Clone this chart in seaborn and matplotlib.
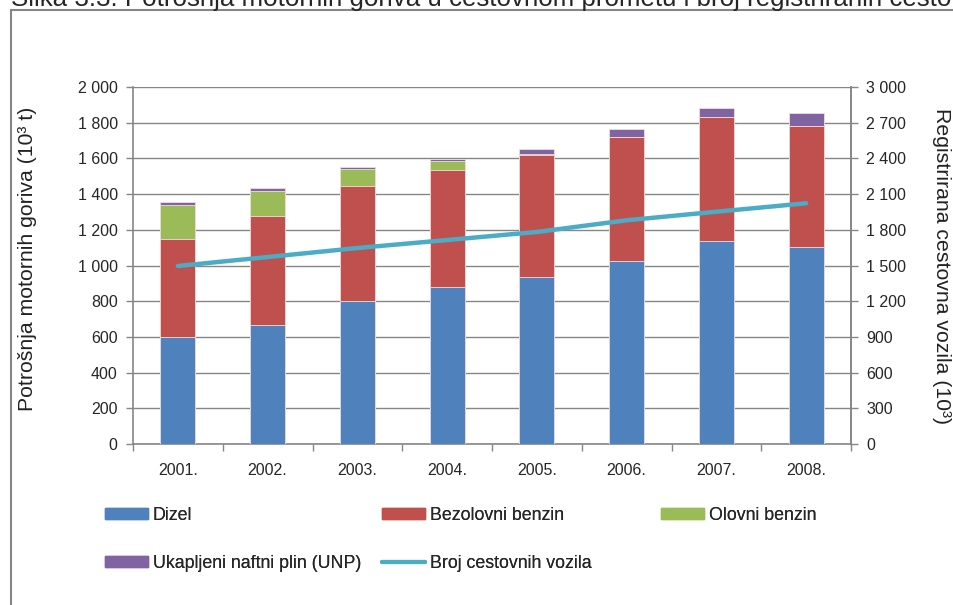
import numpy as np
import pandas as pd
import seaborn as sns
import matplotlib.pyplot as plt
from matplotlib.patches import Rectangle, Patch
from matplotlib.lines import Line2D

# ========= Data =========
years = ["2001.", "2002.", "2003.", "2004.", "2005.", "2006.", "2007.", "2008."]
dizel = [600, 667, 800, 880, 935, 1025, 1137, 1104]
bezolovni = [548, 610, 645, 655, 684, 695, 695, 680]
olovni = [190, 140, 96, 50, 6, 0, 0, 0]
unp = [17, 17, 11, 13, 28, 45, 50, 72]
vozila = [1496, 1571, 1647, 1714, 1782, 1880, 1952, 2023]

series = ["Dizel", "Bezolovni benzin", "Olovni benzin", "Ukapljeni naftni plin (UNP)"]
colors = ["#4F81BD", "#C0504D", "#9BBB59", "#8064A2"]
line_label = "Broj cestovnih vozila"
line_color = "#4BACC6"

left_label = "Potrošnja motornih goriva (10³ t)"
right_label = "Registrirana cestovna vozila (10³)"
title = ("Slika 3.3: Potrošnja motornih goriva u cestovnom prometu i broj "
         "registriranih cestovnih vozila")

# ========= Style =========
sns.set_theme(style="white")
plt.rcParams["font.family"] = ["Liberation Sans", "DejaVu Sans"]
FS = 11.5
GREY = "#868686"
W, H = 954, 605


def fmt_thousands(v):
    return f"{int(v):,}".replace(",", " ")


df = pd.DataFrame({"year": years, "Dizel": dizel, "Bezolovni benzin": bezolovni,
                   "Olovni benzin": olovni, "Ukapljeni naftni plin (UNP)": unp})
cum = df[series].cumsum(axis=1)

fig = plt.figure(figsize=(W / 100, H / 100), dpi=100)
ax = fig.add_axes([133 / W, 1 - 444 / H, (851 - 133) / W, (444 - 87) / H])

# stacked bars: draw cumulative totals from the top segment down
for name, col in reversed(list(zip(series, colors))):
    sns.barplot(x=df["year"], y=cum[name], color=col, width=0.39, ax=ax,
                saturation=1, edgecolor="#f2dede", linewidth=0.6, zorder=3)

ax.set_ylim(0, 2000)
ax.set_yticks(np.arange(0, 2001, 200))
ax.set_yticklabels([fmt_thousands(v) for v in np.arange(0, 2001, 200)], fontsize=FS)
ax.set_xlim(-0.5, len(years) - 0.5)
ax.set_xticks(range(len(years)))
ax.set_xticklabels(years, fontsize=FS)
ax.set_xlabel("")
ax.set_ylabel("")
ax.grid(axis="y", color=GREY, linewidth=1, zorder=0)
ax.set_axisbelow(True)
ax.spines["top"].set_visible(False)
for side in ["left", "bottom", "right"]:
    ax.spines[side].set_color(GREY)
    ax.spines[side].set_linewidth(1.2)
ax.tick_params(axis="y", left=True, length=5, color=GREY, width=1, pad=6)
ax.tick_params(axis="x", bottom=False, pad=8)
ax.set_xticks(np.arange(-0.5, len(years), 1), minor=True)
ax.tick_params(axis="x", which="minor", bottom=True, length=5, color=GREY, width=1)

# line on the secondary axis
ax2 = ax.twinx()
sns.lineplot(x=np.arange(len(years)), y=vozila, color=line_color, linewidth=3.2,
             ax=ax2, zorder=4, solid_capstyle="round")
ax2.set_ylim(0, 3000)
ax2.set_yticks(np.arange(0, 3001, 300))
ax2.set_yticklabels([fmt_thousands(v) for v in np.arange(0, 3001, 300)], fontsize=FS)
ax2.set_ylabel("")
ax2.tick_params(axis="y", right=True, length=5, color=GREY, width=1, pad=6)
for side in ["top", "left", "bottom"]:
    ax2.spines[side].set_visible(False)
ax2.spines["right"].set_color(GREY)
ax2.spines["right"].set_linewidth(1.2)
ax2.grid(False)

# axis titles
fig.text(28 / W, 1 - 259 / H, left_label, rotation=90, fontsize=15.3,
         ha="center", va="center", color="#222222")
fig.text(942 / W, 1 - 266 / H, right_label, rotation=270, fontsize=15.3,
         ha="center", va="center", color="#222222")

# legend below the plot: three fixed columns
h = [Patch(color=c) for c in colors]
ln = Line2D([], [], color=line_color, linewidth=3)
legend_cols = [
    ([h[0], h[3]], [series[0], series[3]], 105),
    ([h[1], ln], [series[1], line_label], 382),
    ([h[2]], [series[2]], 661),
]
for hs, ls, x0 in legend_cols:
    leg = fig.legend(hs, ls, loc="upper left", bbox_to_anchor=(x0 / W, 1 - 507 / H),
                     frameon=False, fontsize=12.8, handlelength=2.4,
                     handleheight=0.55, handletextpad=0.3, labelspacing=1.75,
                     borderpad=0, borderaxespad=0)
    fig.add_artist(leg)

# outer chart frame and clipped caption
fig.add_artist(Rectangle((11 / W, -0.1), 1.1, 1 - 10 / H + 0.1,
                         transform=fig.transFigure, fill=False,
                         edgecolor=GREY, linewidth=1.5))
fig.text(11 / W, 1 - 6 / H, title, fontsize=18.6, va="baseline", ha="left")

fig.savefig("out.png", dpi=100)
